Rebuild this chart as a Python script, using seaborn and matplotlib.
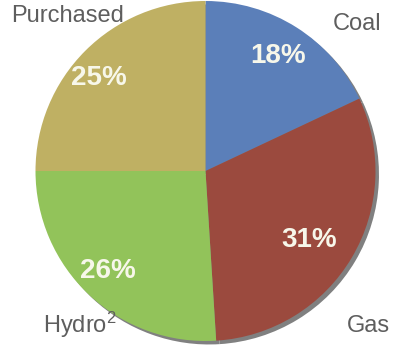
import numpy as np
import seaborn as sns
import matplotlib.pyplot as plt

# -------------------------------------------------------------------
# Data
# -------------------------------------------------------------------
sources = ["Coal", "Gas", "Hydro", "Purchased"]
shares = [18, 31, 26, 25]
source_labels = ["Coal", "Gas", "Hydro$^{2}$", "Purchased"]
colors = ["#5b7fb9", "#9b4a3e", "#92c35a", "#bfb063"]

# -------------------------------------------------------------------
# Style
# -------------------------------------------------------------------
sns.set_theme(style="white")
plt.rcParams["font.family"] = ["Liberation Sans", "DejaVu Sans"]
plt.rcParams["mathtext.fontset"] = "custom"
plt.rcParams["mathtext.rm"] = "Liberation Sans"
plt.rcParams["mathtext.default"] = "regular"

fig = plt.figure(figsize=(3.93, 3.49), dpi=100)
ax = fig.add_axes([0, 0, 1, 1])

center = (205.5, 178)
radius = 170

# pie in pixel-like data units (center / radius of the circle)
wedges, texts, autotexts = ax.pie(
    shares,
    colors=sns.color_palette(colors),
    startangle=90,
    counterclock=False,
    center=center,
    radius=radius,
    autopct="%d%%",
    pctdistance=0.79,
    textprops=dict(color="#f7f7ea", fontsize=20, fontweight="bold"),
    shadow={"ox": 2.5, "oy": -2.5, "facecolor": "#808080",
            "edgecolor": "#808080", "alpha": 1},
    wedgeprops=dict(linewidth=0),
)

# nudge the percentage labels a little (radial distance, angle shift in deg)
pct_tweak = {"Coal": (0.80, 0), "Gas": (0.73, -3),
             "Hydro": (0.82, -1), "Purchased": (0.83, 4)}
for src, w, t in zip(sources, wedges, autotexts):
    dist, dang = pct_tweak[src]
    ang = np.deg2rad((w.theta1 + w.theta2) / 2 + dang)
    t.set_position((center[0] + dist * radius * np.cos(ang),
                    center[1] + dist * radius * np.sin(ang)))

ax.set_xlim(0, 393)
ax.set_ylim(0, 349)
ax.set_aspect("equal")
ax.axis("off")

# outer category labels sit in the corners
label_pos = {
    "Coal": (357, 349 - 30),
    "Gas": (368, 349 - 332),
    "Hydro": (80, 349 - 333),
    "Purchased": (68, 349 - 22),
}
for src, lab in zip(sources, source_labels):
    x, y = label_pos[src]
    ax.text(x, y, lab, ha="center", va="baseline", fontsize=17,
            color="#5e5e5e")

fig.savefig("out.png", dpi=100)
